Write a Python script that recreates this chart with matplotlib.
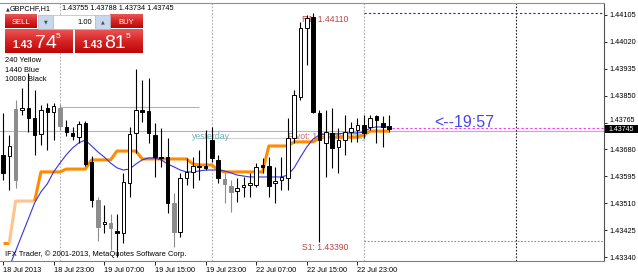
import numpy as np
import matplotlib.pyplot as plt
from matplotlib.colors import LinearSegmentedColormap
from matplotlib.patches import Rectangle
from matplotlib.transforms import ScaledTranslation

plt.rcParams['font.family'] = ['Liberation Sans', 'DejaVu Sans']

# GBPCHF H1 bars, 18 Jul 2013 15:00 .. 23 Jul 2013 04:00
opens = [1.43663, 1.43659, 1.43584, 1.43805, 1.43811, 1.43780, 1.43729, 1.43811, 1.43798, 1.43811,
         1.43751, 1.43732, 1.43719, 1.43764, 1.43640, 1.43520, 1.43445, 1.43448, 1.43422, 1.43416,
         1.43574, 1.43732, 1.43805, 1.43802, 1.43726, 1.43656, 1.43656, 1.43511, 1.43419, 1.43590,
         1.43609, 1.43628, 1.43628, 1.43710, 1.43647, 1.43587, 1.43565, 1.43549, 1.43561, 1.43568,
         1.43568, 1.43631, 1.43628, 1.43574, 1.43584, 1.43590, 1.43716, 1.43846, 1.44064, 1.44099,
         1.43795, 1.43701, 1.43732, 1.43688, 1.43710, 1.43735, 1.43742, 1.43757, 1.43751, 1.43786,
         1.43764, 1.43755]
highs = [1.43795, 1.43726, 1.43836, 1.43874, 1.43922, 1.43868, 1.43821, 1.43827, 1.43827, 1.43824,
         1.43773, 1.43751, 1.43770, 1.43770, 1.43659, 1.43530, 1.43505, 1.43476, 1.43476, 1.43606,
         1.43751, 1.43934, 1.43900, 1.43906, 1.43764, 1.43748, 1.43716, 1.43543, 1.43606, 1.43653,
         1.43656, 1.43678, 1.43742, 1.43751, 1.43663, 1.43606, 1.43584, 1.43590, 1.43593, 1.43606,
         1.43637, 1.43653, 1.43656, 1.43625, 1.43656, 1.43780, 1.43868, 1.44083, 1.44105, 1.44110,
         1.43805, 1.43805, 1.43811, 1.43748, 1.43789, 1.43767, 1.43780, 1.43789, 1.43789, 1.43789,
         1.43786, 1.43788]
lows = [1.43584, 1.43552, 1.43558, 1.43789, 1.43735, 1.43663, 1.43694, 1.43678, 1.43710, 1.43742,
        1.43723, 1.43710, 1.43701, 1.43628, 1.43498, 1.43391, 1.43416, 1.43362, 1.43340, 1.43385,
        1.43530, 1.43669, 1.43767, 1.43701, 1.43593, 1.43625, 1.43479, 1.43372, 1.43403, 1.43568,
        1.43558, 1.43584, 1.43615, 1.43640, 1.43574, 1.43511, 1.43482, 1.43514, 1.43530, 1.43530,
        1.43561, 1.43606, 1.43530, 1.43511, 1.43552, 1.43552, 1.43701, 1.43836, 1.43947, 1.43795,
        1.43388, 1.43593, 1.43622, 1.43606, 1.43663, 1.43704, 1.43704, 1.43716, 1.43742, 1.43701,
        1.43688, 1.43734]
closes = [1.43606, 1.43691, 1.43808, 1.43811, 1.43780, 1.43726, 1.43805, 1.43798, 1.43817, 1.43754,
          1.43735, 1.43723, 1.43761, 1.43634, 1.43520, 1.43435, 1.43451, 1.43432, 1.43416, 1.43577,
          1.43729, 1.43805, 1.43798, 1.43732, 1.43656, 1.43653, 1.43511, 1.43419, 1.43590, 1.43609,
          1.43628, 1.43625, 1.43622, 1.43653, 1.43590, 1.43571, 1.43546, 1.43558, 1.43568, 1.43574,
          1.43625, 1.43625, 1.43565, 1.43580, 1.43593, 1.43716, 1.43852, 1.44064, 1.44096, 1.43798,
          1.43710, 1.43735, 1.43685, 1.43710, 1.43735, 1.43748, 1.43757, 1.43732, 1.43780, 1.43773,
          1.43751, 1.43745]
grey_bars = [2, 9, 15, 17, 27, 35, 36]

# MTF moving averages
ma240 = [1.43385, 1.43385, 1.43517, 1.43517, 1.43517, 1.43517, 1.43609, 1.43609, 1.43609, 1.43609,
         1.43618, 1.43618, 1.43618, 1.43618, 1.43647, 1.43647, 1.43647, 1.43647, 1.43675, 1.43675,
         1.43675, 1.43675, 1.43650, 1.43650, 1.43650, 1.43650, 1.43650, 1.43650, 1.43650, 1.43650,
         1.43634, 1.43631, 1.43631, 1.43631, 1.43615, 1.43609, 1.43609, 1.43609, 1.43609, 1.43609,
         1.43609, 1.43609, 1.43691, 1.43691, 1.43691, 1.43691, 1.43704, 1.43704, 1.43704, 1.43704,
         1.43716, 1.43719, 1.43719, 1.43719, 1.43719, 1.43719, 1.43719, 1.43726, 1.43738, 1.43738,
         1.43738, 1.43738]
ma1440 = [1.43258, 1.43309, 1.43359, 1.43410, 1.43460, 1.43511, 1.43546, 1.43571, 1.43609, 1.43637,
          1.43663, 1.43685, 1.43701, 1.43710, 1.43691, 1.43672, 1.43656, 1.43637, 1.43622, 1.43615,
          1.43618, 1.43634, 1.43647, 1.43653, 1.43653, 1.43647, 1.43634, 1.43625, 1.43615, 1.43609,
          1.43609, 1.43612, 1.43615, 1.43615, 1.43615, 1.43612, 1.43606, 1.43599, 1.43596, 1.43593,
          1.43593, 1.43593, 1.43593, 1.43593, 1.43593, 1.43599, 1.43622, 1.43656, 1.43688, 1.43713,
          1.43726, 1.43729, 1.43729, 1.43729, 1.43732, 1.43732, 1.43732, 1.43735, 1.43748, 1.43751,
          1.43751, 1.43751]

x_label_bars = [0, 8, 16, 24, 32, 40, 48, 56]
x_labels = ["18 Jul 2013", "18 Jul 23:00", "19 Jul 07:00", "19 Jul 15:00",
            "19 Jul 23:00", "22 Jul 07:00", "22 Jul 15:00", "22 Jul 23:00"]
y_ticks = [1.44105, 1.44020, 1.43935, 1.43850, 1.43765, 1.43680, 1.43595, 1.43510, 1.43425, 1.43340]
day_starts = [9, 33, 57]
next_day = 81

r1 = 1.44110
s1 = 1.43390
pivot = 1.43738
yest_high = 1.43813
yest_low = 1.43716
timer_level = 1.43748
bid = closes[-1]
ask = 1.43815

fig = plt.figure(figsize=(6.38, 2.75), dpi=100)
ax = fig.add_axes([0, 14 / 275, 604 / 638, 258 / 275])
xmax = 94.95
ax.set_xlim(-0.47, xmax)
ax.set_ylim(1.433274, 1.441429)

n = len(opens)
idx = np.arange(n)
o = np.array(opens)
c = np.array(closes)
h = np.array(highs)
l = np.array(lows)

face = ['white' if c[i] >= o[i] else 'black' for i in range(n)]
edge = ['black'] * n
for i in grey_bars:
    face[i] = '#8c8c8c'
    edge[i] = '#8c8c8c'

ax.vlines(idx, l, h, colors=edge, lw=0.8, zorder=5)
ax.bar(idx, np.maximum(np.abs(c - o), 0.000012), bottom=np.minimum(o, c), width=0.55,
       color=face, edgecolor=edge, lw=0.7, zorder=6)

# moving averages
ax.plot(idx[:2], ma240[:2], color='#FF8C00', lw=2.2, zorder=3, solid_capstyle='butt')
ax.plot(idx[1:6], ma240[1:6], color='#FFC48A', lw=2.2, zorder=3, solid_capstyle='butt')
ax.plot(idx[5:], ma240[5:], color='#FF8C00', lw=2.2, zorder=3, solid_capstyle='butt')
ax.plot(idx, ma1440, color='#3434E6', lw=0.8, zorder=4)

# lines
ax.axhline(pivot, color='#B4B4B4', lw=0.8, zorder=1)
ax.hlines(yest_high, 9, 31, color='#B4B4B4', lw=0.8, zorder=1)
ax.hlines(yest_low, 31, 47, color='#D0D0D0', lw=0.8, zorder=1)
ax.hlines(r1, 57, xmax, color='#2222DD', lw=0.8, ls=(0, (2, 2)), zorder=2)
ax.hlines(s1, 57, xmax, color='#F06060', lw=0.8, ls=(0, (1.5, 1.5)), zorder=2)
ax.hlines(timer_level, n - 0.5, xmax, color='#FF33FF', lw=0.8, ls=(0, (2, 2)), zorder=2)
for d in day_starts:
    ax.axvline(d, color='#B0B0B0', lw=0.8, ls=(0, (1.5, 1.5)), zorder=1)
ax.axvline(next_day, color='#202020', lw=0.8, ls=(0, (1.5, 1.5)), zorder=1)

# labels on the chart
ax.text(29.9, pivot - 0.00002, "yesterday", color='#72B4B8', fontsize=6.3, va='top', zorder=2)
ax.text(45.0, pivot - 0.00002, "Pivot: %.5f" % pivot, color='#C87070', fontsize=6.3, va='top', zorder=2)
ax.text(53.9, pivot - 0.00002, "Today", color='#72B4B8', fontsize=6.3, va='top', zorder=2)
ax.annotate("R1: %.5f" % r1, (47.2, r1), xytext=(0, -1.5), textcoords='offset points',
            color='#B84444', fontsize=6.2, va='top', zorder=2)
ax.annotate("S1: %.5f" % s1, (47.2, s1), xytext=(0, -1.5), textcoords='offset points',
            color='#B84444', fontsize=6.2, va='top', zorder=2)
ax.annotate("<--19:57", (68.2, timer_level), xytext=(0, 0.5), textcoords='offset points',
            color='#4646EE', fontsize=11.5, va='baseline', zorder=7)

# axes styling
ax.spines['left'].set_visible(False)
ax.spines['top'].set_color('#909090')
ax.spines['bottom'].set_color('#808080')
ax.spines['right'].set_color('#505050')
for s in ax.spines.values():
    s.set_linewidth(0.8)
ax.yaxis.tick_right()
ax.set_yticks(y_ticks)
ax.set_yticklabels(["%.5f" % v for v in y_ticks])
ax.set_xticks(x_label_bars)
ax.set_xticklabels(x_labels)
for lbl in ax.get_xticklabels():
    lbl.set_ha('left')
ax.tick_params(axis='y', length=2.5, width=0.6, pad=1.5, labelsize=5.3, colors='black')
ax.tick_params(axis='x', length=3, width=0.6, pad=1, labelsize=5.3, colors='black')
# the label next to the bid box sits a little higher, half hidden in the original
lift = ScaledTranslation(0, 2.2 / 72, fig.dpi_scale_trans)
for lbl in ax.get_yticklabels():
    if lbl.get_text() == "1.43765":
        lbl.set_transform(lbl.get_transform() + lift)
        lbl.set_fontsize(5.0)

# overlay in pixel coordinates
ov = fig.add_axes([0, 0, 1, 1], zorder=10)
ov.patch.set_visible(False)
ov.axis('off')

red = LinearSegmentedColormap.from_list('red', ['#EC5656', '#D62525', '#BE0606'])
grad = np.linspace(0, 1, 50).reshape(-1, 1)
for x0, x1, y0, y1 in [(5, 37, 15, 28.5), (110, 143, 15, 28.5), (5, 73, 29.5, 53), (75, 143, 29.5, 53)]:
    ov.imshow(grad, extent=(x0, x1, y1, y0), cmap=red, aspect='auto', origin='upper', zorder=1)
for x0 in [38, 95]:
    ov.add_patch(Rectangle((x0, 15), 15, 13.5, fc='#C9D7EA', ec='#A8B8CF', lw=0.5, zorder=1))
ov.add_patch(Rectangle((53, 15), 42, 13.5, fc='white', ec='#A8B8CF', lw=0.5, zorder=1))
ov.text(45.5, 21.5, "\u25bc", fontsize=3.5, color='#40506a', ha='center', va='center', family='DejaVu Sans')
ov.text(102.5, 21.5, "\u25b2", fontsize=3.5, color='#40506a', ha='center', va='center', family='DejaVu Sans')
ov.text(21, 22, "SELL", color='white', fontsize=5.5, ha='center', va='center')
ov.text(126.5, 22, "BUY", color='white', fontsize=5.5, ha='center', va='center')
ov.text(92, 22, "1.00", color='black', fontsize=5.5, ha='right', va='center')

sell = "%.5f" % bid
buy = "%.5f" % ask
for x0, q in [(12, sell), (82, buy)]:
    ov.text(x0, 47.5, q[:4], color='white', fontsize=7.5, fontweight='bold', va='baseline')
    ov.text(x0 + 22.5, 47.5, q[4:6], color='white', fontsize=14, va='baseline')
    ov.text(x0 + 44, 32.5, q[6], color='white', fontsize=6, va='top')

ov.text(5.5, 8.5, "\u25b2", fontsize=3.5, color='#303030', va='center', family='DejaVu Sans')
ov.text(10, 8.5, "GBPCHF,H1", fontsize=5.2, va='center')
ov.text(62, 8.5, "%.5f %.5f %.5f %.5f" % (opens[-1], highs[-1], lows[-1], closes[-1]),
        fontsize=5.2, va='center')
for k, t in enumerate(["240 Yellow", "1440 Blue", "10080 Black"]):
    ov.text(5, 61 + 9.3 * k, t, fontsize=5.4, va='center')
ov.text(5, 254.5, "IFX Trader, \u00a9 2001-2013, MetaQuotes Software Corp.", fontsize=5.4, va='center')

ov.add_patch(Rectangle((605, 125), 33, 8.2, fc='black', ec='none', zorder=3))
ov.text(608, 129.2, "%.5f" % bid, color='white', fontsize=5.0, va='center', zorder=4)

ov.set_xlim(0, 638)
ov.set_ylim(275, 0)

fig.savefig('out.png', dpi=100)
